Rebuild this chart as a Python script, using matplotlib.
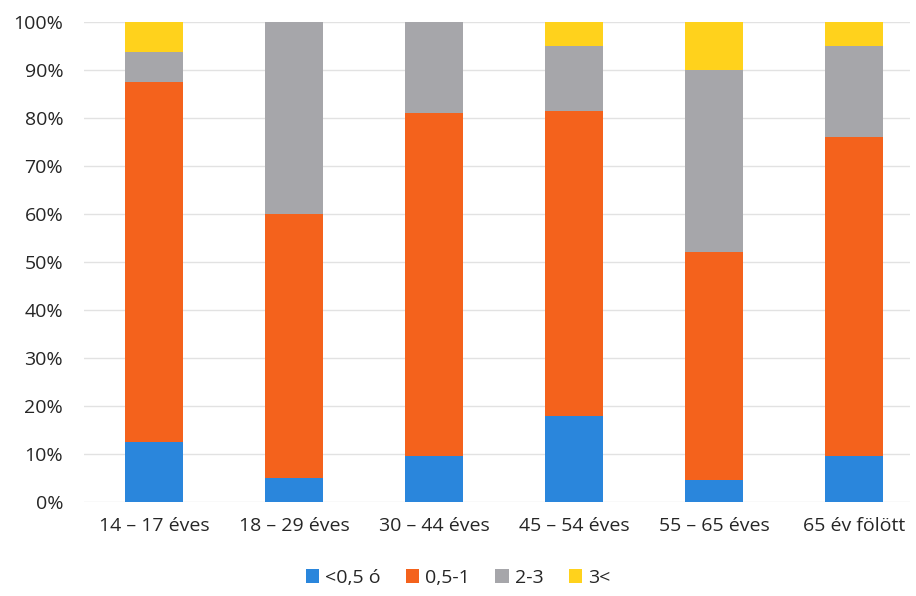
import matplotlib
matplotlib.use("Agg")
import matplotlib.pyplot as plt
import numpy as np

categories = ["14 – 17 éves", "18 – 29 éves", "30 – 44 éves", "45 – 54 éves", "55 – 65 éves", "65 év fölött"]
series_names = ["<0,5 ó", "0,5-1", "2-3", "3<"]
s_lt05 = [12.5, 5.0, 9.5, 18.0, 4.5, 9.5]
s_05_1 = [75.0, 55.0, 71.5, 63.5, 47.5, 66.5]
s_2_3 = [6.25, 40.0, 19.0, 13.5, 38.0, 19.0]
s_3plus = [6.25, 0.0, 0.0, 5.0, 10.0, 5.0]
yticks = [0, 10, 20, 30, 40, 50, 60, 70, 80, 90, 100]
colors = ["#2a86dc", "#f4621c", "#a6a6aa", "#ffd21c"]

plt.rcParams['font.family'] = ['Open Sans', 'DejaVu Sans']

fig = plt.figure(figsize=(9.16, 5.96), dpi=100)
ax = fig.add_axes([84/916, 94/596, 826/916, 480/596])

x = np.arange(len(categories))
bottom = np.zeros(len(categories))
for vals, name, c in zip([s_lt05, s_05_1, s_2_3, s_3plus], series_names, colors):
    ax.bar(x, vals, bottom=bottom, width=0.42, color=c, label=name, zorder=3)
    bottom += np.array(vals)

ax.set_xlim(-0.5, 5.4)
ax.set_ylim(0, 100)
ax.set_yticks(yticks)
ax.set_yticklabels([f"{v}%" for v in yticks])
ax.set_xticks(x)
ax.set_xticklabels(categories)
ax.grid(axis='y', color='#e2e2e2', linewidth=1, zorder=0)
for s in ax.spines.values():
    s.set_visible(False)
ax.tick_params(axis='both', length=0, labelsize=14, colors='#262626')
ax.tick_params(axis='x', pad=11)
ax.tick_params(axis='y', pad=15)

leg = fig.legend(loc='center', bbox_to_anchor=(0.5, 1 - 578/596), ncol=4, frameon=False,
                 fontsize=14, handlelength=0.7, handleheight=0.7, handletextpad=0.3,
                 columnspacing=1.3, labelcolor='#262626')

fig.savefig("out.png", dpi=100)
